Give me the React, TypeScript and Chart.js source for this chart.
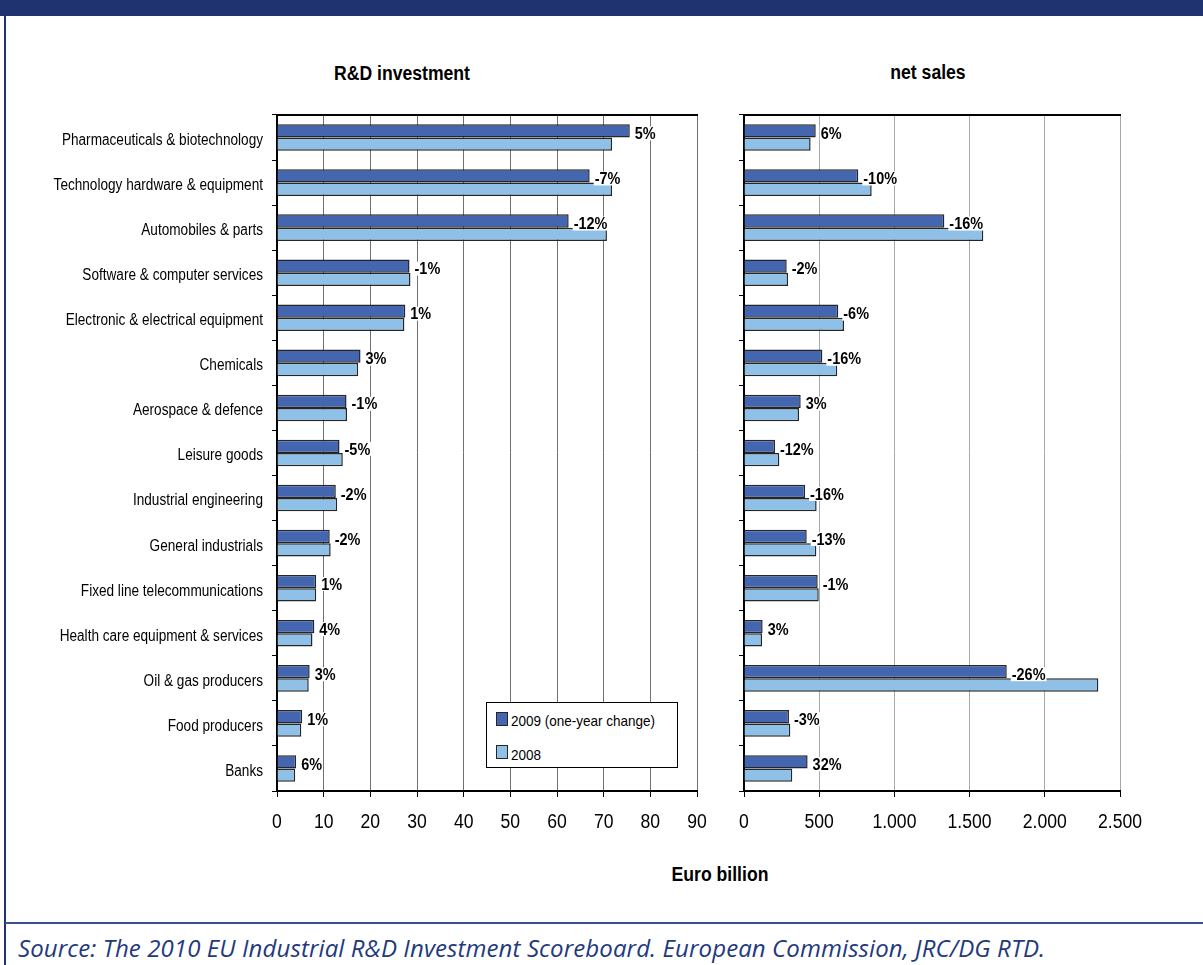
import React, { useEffect, useRef } from "react";
import { Chart, registerables } from "chart.js";

Chart.register(...registerables);

const FONT = '"Liberation Sans", Arial, sans-serif';

const categories = [
  "Pharmaceuticals & biotechnology",
  "Technology hardware & equipment",
  "Automobiles & parts",
  "Software & computer services",
  "Electronic & electrical equipment",
  "Chemicals",
  "Aerospace & defence",
  "Leisure goods",
  "Industrial engineering",
  "General industrials",
  "Fixed line telecommunications",
  "Health care equipment & services",
  "Oil & gas producers",
  "Food producers",
  "Banks",
];

const seriesNames = ["2009 (one-year change)", "2008"];

const rd2009 = [75.6, 67.0, 62.5, 28.4, 27.5, 17.9, 14.9, 13.4, 12.6, 11.3, 8.4, 8.0, 7.0, 5.4, 4.1];
const rd2008 = [71.8, 71.8, 70.7, 28.6, 27.3, 17.4, 15.0, 14.1, 12.9, 11.5, 8.4, 7.6, 6.8, 5.2, 3.9];
const rdChange = ["5%", "-7%", "-12%", "-1%", "1%", "3%", "-1%", "-5%", "-2%", "-2%", "1%", "4%", "3%", "1%", "6%"];

const sales2009 = [477, 760, 1332, 284, 627, 521, 377, 206, 406, 417, 490, 124, 1747, 299, 423];
const sales2008 = [443, 849, 1591, 293, 665, 620, 366, 235, 483, 481, 497, 120, 2356, 308, 321];
const salesChange = ["6%", "-10%", "-16%", "-2%", "-6%", "-16%", "3%", "-12%", "-16%", "-13%", "-1%", "3%", "-26%", "-3%", "32%"];

const rdTicks = ["0", "10", "20", "30", "40", "50", "60", "70", "80", "90"];
const salesTicks = ["0", "500", "1.000", "1.500", "2.000", "2.500"];

const COLOR_2009 = "#4466b0";
const COLOR_2008 = "#8fc0e8";
const NAVY = "#1f3370";

// Draws text horizontally condensed (the original uses a narrow typeface)
function narrowText(ctx: any, t: string, x: number, y: number, sx: number) {
  ctx.save();
  ctx.translate(x, y);
  ctx.scale(sx, 1);
  ctx.fillText(t, 0, 0);
  ctx.restore();
}

function textPlugin(labels: string[], tickLabels: string[], showCats: boolean) {
  return {
    id: "narrowTexts",
    afterDatasetsDraw(chart: any) {
      const ctx = chart.ctx;
      const meta = chart.getDatasetMeta(0);
      ctx.save();
      ctx.font = "bold 17px " + FONT;
      ctx.textBaseline = "middle";
      ctx.textAlign = "left";
      meta.data.forEach((bar: any, i: number) => {
        const p = bar.getProps(["x", "y"], true);
        const t = labels[i];
        const w = ctx.measureText(t).width * 0.85;
        const tx = p.x + 5;
        const ty = p.y + 3.5;
        ctx.fillStyle = "#ffffff";
        ctx.fillRect(tx - 1, ty - 8, w + 2, 14);
        ctx.fillStyle = "#000000";
        narrowText(ctx, t, tx, ty, 0.85);
      });
      ctx.restore();
    },
    afterDraw(chart: any) {
      const { ctx, chartArea, scales } = chart;
      ctx.save();
      // top frame line
      ctx.strokeStyle = "#000";
      ctx.lineWidth = 2;
      ctx.beginPath();
      ctx.moveTo(chartArea.left - 1, chartArea.top);
      ctx.lineTo(chartArea.right + 1, chartArea.top);
      ctx.stroke();
      // category labels
      ctx.fillStyle = "#000";
      if (showCats) {
        ctx.font = "16px " + FONT;
        ctx.textAlign = "right";
        ctx.textBaseline = "middle";
        categories.forEach((c, i) => {
          const y = scales.y.getPixelForValue(i);
          narrowText(ctx, c, chartArea.left - 14, y + 3, 0.85);
        });
      }
      // x tick labels
      ctx.font = "20px " + FONT;
      ctx.textAlign = "center";
      ctx.textBaseline = "middle";
      scales.x.ticks.forEach((tk: any, i: number) => {
        const x = scales.x.getPixelForValue(tk.value);
        narrowText(ctx, tickLabels[i], x, chartArea.bottom + 31, 0.88);
      });
      ctx.restore();
    },
  };
}

function makeConfig(
  d2009: number[],
  d2008: number[],
  labels: string[],
  max: number,
  step: number,
  tickLabels: string[],
  yWidth: number,
  showCats: boolean,
  gridColor: string,
  padRight: number
): any {
  return {
    type: "bar",
    data: {
      labels: categories,
      datasets: [
        {
          label: seriesNames[0],
          data: d2009,
          backgroundColor: COLOR_2009,
          borderColor: "#262626",
          borderWidth: 1.5,
          barPercentage: 1,
          categoryPercentage: 0.59,
        },
        {
          label: seriesNames[1],
          data: d2008,
          backgroundColor: COLOR_2008,
          borderColor: "#262626",
          borderWidth: 1.5,
          barPercentage: 1,
          categoryPercentage: 0.59,
        },
      ],
    },
    options: {
      indexAxis: "y",
      responsive: false,
      animation: false,
      layout: { padding: { top: 15, right: padRight, bottom: 0, left: 0 } },
      plugins: {
        legend: { display: false },
        title: { display: false },
        tooltip: { enabled: false },
      },
      scales: {
        x: {
          min: 0,
          max: max,
          ticks: {
            stepSize: step,
            display: false,
          },
          grid: { color: gridColor, lineWidth: 1, tickLength: 6, tickColor: "#000" },
          border: { color: "#000", width: 2 },
          afterFit: (s: any) => {
            s.height = 69;
          },
        },
        y: {
          ticks: { display: false },
          grid: { drawOnChartArea: false, drawTicks: true, tickLength: 5, tickColor: "#000", offset: true },
          border: { color: "#000", width: 2 },
          afterFit: (s: any) => {
            s.width = yWidth;
          },
        },
      },
    },
    plugins: [textPlugin(labels, tickLabels, showCats)],
  };
}

function BarPanel(props: { cfg: () => any; left: number; width: number }) {
  const ref = useRef<HTMLCanvasElement | null>(null);
  useEffect(() => {
    if (!ref.current) return;
    const chart = new Chart(ref.current, props.cfg());
    return () => chart.destroy();
  }, []);
  return (
    <canvas
      ref={ref}
      width={props.width}
      height={760}
      style={{ position: "absolute", left: props.left, top: 100, width: props.width, height: 760 }}
    />
  );
}

export default function App() {
  const text = (extra: React.CSSProperties): React.CSSProperties => ({
    position: "absolute",
    fontFamily: FONT,
    color: "#000",
    whiteSpace: "nowrap",
    ...extra,
  });
  const title = (cx: number, top: number): React.CSSProperties =>
    text({
      left: cx - 100,
      width: 200,
      top,
      textAlign: "center",
      fontSize: 20,
      fontWeight: "bold",
      lineHeight: "22px",
      transform: "scaleX(0.88)",
      transformOrigin: "50% 50%",
    });
  return (
    <div
      style={{
        position: "absolute",
        left: 0,
        top: 0,
        width: 1203,
        height: 965,
        background: "#fff",
        overflow: "hidden",
      }}
    >
      <div style={{ position: "absolute", left: 0, top: 0, width: 1203, height: 16, background: NAVY }} />
      <div style={{ position: "absolute", left: 4, top: 16, width: 2, height: 949, background: NAVY }} />
      <div style={{ position: "absolute", left: 5, top: 922, width: 1198, height: 2, background: "#3a4f8f" }} />

      <BarPanel
        left={0}
        width={720}
        cfg={() => makeConfig(rd2009, rd2008, rdChange, 90, 10, rdTicks, 277, true, "#707070", 23)}
      />
      <BarPanel
        left={720}
        width={460}
        cfg={() => makeConfig(sales2009, sales2008, salesChange, 2500, 500, salesTicks, 24, false, "#a8a8a8", 60)}
      />

      <div style={title(402, 62)}>R&amp;D investment</div>
      <div style={title(928, 61)}>net sales</div>
      <div style={title(720, 863)}>Euro billion</div>

      <div
        style={{
          position: "absolute",
          left: 486,
          top: 702,
          width: 190,
          height: 64,
          border: "1px solid #000",
          background: "#fff",
        }}
      >
        <div style={{ position: "absolute", left: 9, top: 9, width: 10, height: 12, background: COLOR_2009, border: "1px solid #262626" }} />
        <div style={text({ left: 24, top: 9, fontSize: 15, lineHeight: "17px", transform: "scaleX(0.9)", transformOrigin: "0 50%" })}>
          {seriesNames[0]}
        </div>
        <div style={{ position: "absolute", left: 9, top: 42, width: 10, height: 12, background: COLOR_2008, border: "1px solid #262626" }} />
        <div style={text({ left: 24, top: 43, fontSize: 15, lineHeight: "17px", transform: "scaleX(0.9)", transformOrigin: "0 50%" })}>
          {seriesNames[1]}
        </div>
      </div>

      <div
        style={{
          position: "absolute",
          left: 18,
          top: 936,
          fontFamily: '"Open Sans", "Noto Sans", sans-serif',
          fontStyle: "italic",
          fontSize: 24,
          lineHeight: "24px",
          letterSpacing: "0.1px",
          color: "#22397e",
          whiteSpace: "nowrap",
        }}
      >
        Source: The 2010 EU Industrial R&amp;D Investment Scoreboard. European Commission, JRC/DG RTD.
      </div>
    </div>
  );
}
